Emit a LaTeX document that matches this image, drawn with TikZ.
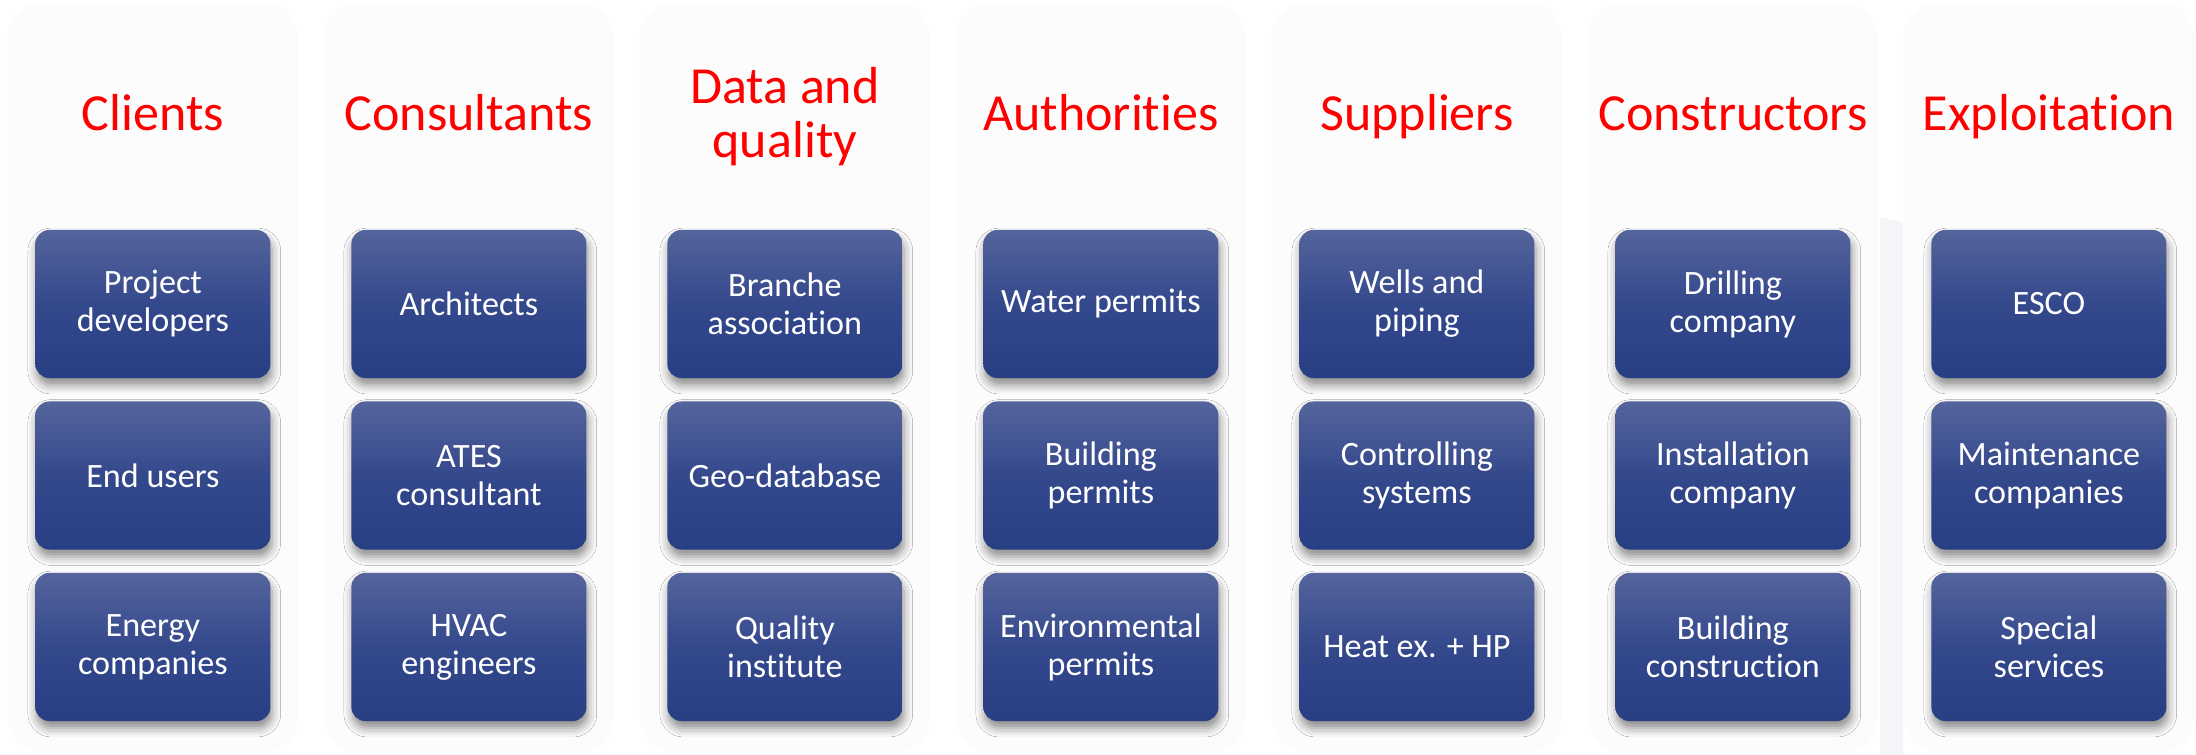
\documentclass[tikz,border=0pt]{standalone}
\usepackage{fontspec}
\setmainfont{Carlito}[Ligatures={NoCommon,NoDiscretionary,NoContextual,NoRequired}]
\usetikzlibrary{shadows.blur}

% separate t and i so the font does not join them
\newcommand{\tsep}{t\kern0pt i}

\definecolor{titlered}{RGB}{255,0,0}
\definecolor{boxtop}{RGB}{84,100,156}
\definecolor{boxmid}{RGB}{52,72,140}
\definecolor{boxbot}{RGB}{40,63,132}
\definecolor{panelfill}{RGB}{252,252,252}
\definecolor{gapfill}{RGB}{244,245,248}

\tikzset{
  coltitle/.style={anchor=base, align=center, text=titlered,
    font=\fontsize{14.8}{15.6}\selectfont, inner sep=0pt},
  actor/.style={rectangle, rounded corners=0.14cm,
    minimum width=2.35cm, minimum height=1.48cm,
    top color=boxtop, bottom color=boxbot, middle color=boxmid,
    draw=none, text=white, align=center,
    font=\fontsize{9.7}{10.8}\selectfont,
    blur shadow={shadow xshift=0.4pt, shadow yshift=-2pt,
      shadow blur radius=2.5pt, shadow opacity=45}}
}

\begin{document}
\begin{tikzpicture}[x=0.01cm, y=-0.01cm]
  \useasboundingbox[fill=white] (0,0) rectangle (2196,755);

  % faint backdrop behind the columns
  \fill[gapfill] (1880,217) -- (1903,222) -- (1903,755) -- (1880,755) -- cycle;
  \foreach \i in {0,...,6} {
    \pgfmathsetmacro{\cx}{152.9+316*\i}
    \fill[panelfill, rounded corners=0.35cm] (\cx-145,3) rectangle (\cx+145,752);
  }

  % column headings (base = baseline of the last line)
  \node[coltitle] (t1) at (152.9,131)  {Clients};
  \node[coltitle] (t2) at (468.9,131)  {Consultants};
  \node[coltitle] (t3) at (784.9,158)  {Data and\\quality};
  \node[coltitle] (t4) at (1100.9,131) {Authori\tsep es};
  \node[coltitle] (t5) at (1416.9,131) {Suppliers};
  \node[coltitle] (t6) at (1732.9,131) {Constructors};
  \node[coltitle] (t7) at (2048.9,131) {Exploita\tsep on};

  % Clients
  \node[actor] (c1) at (152.9,304)   {Project\\developers};
  \node[actor] (c2) at (152.9,475.5) {End users};
  \node[actor] (c3) at (152.9,647)   {Energy\\companies};
  % Consultants
  \node[actor] (k1) at (468.9,304)   {Architects};
  \node[actor] (k2) at (468.9,475.5) {ATES\\consultant};
  \node[actor] (k3) at (468.9,647)   {HVAC\\engineers};
  % Data and quality
  \node[actor] (d1) at (784.9,304)   {Branche\\association};
  \node[actor] (d2) at (784.9,475.5) {Geo-database};
  \node[actor] (d3) at (784.9,647)   {Quality\\institute};
  % Authorities
  \node[actor] (a1) at (1100.9,304)   {Water permits};
  \node[actor] (a2) at (1100.9,475.5) {Building\\permits};
  \node[actor] (a3) at (1100.9,647)   {Environmental\\permits};
  % Suppliers
  \node[actor] (s1) at (1416.9,304)   {Wells and\\piping};
  \node[actor] (s2) at (1416.9,475.5) {Controlling\\systems};
  \node[actor] (s3) at (1416.9,647)   {Heat ex. + HP};
  % Constructors
  \node[actor] (b1) at (1732.9,304)   {Drilling\\company};
  \node[actor] (b2) at (1732.9,475.5) {Installa\tsep on\\company};
  \node[actor] (b3) at (1732.9,647)   {Building\\construc\tsep on};
  % Exploitation
  \node[actor] (e1) at (2048.9,304)   {ESCO};
  \node[actor] (e2) at (2048.9,475.5) {Maintenance\\companies};
  \node[actor] (e3) at (2048.9,647)   {Special\\services};
\end{tikzpicture}
\end{document}
